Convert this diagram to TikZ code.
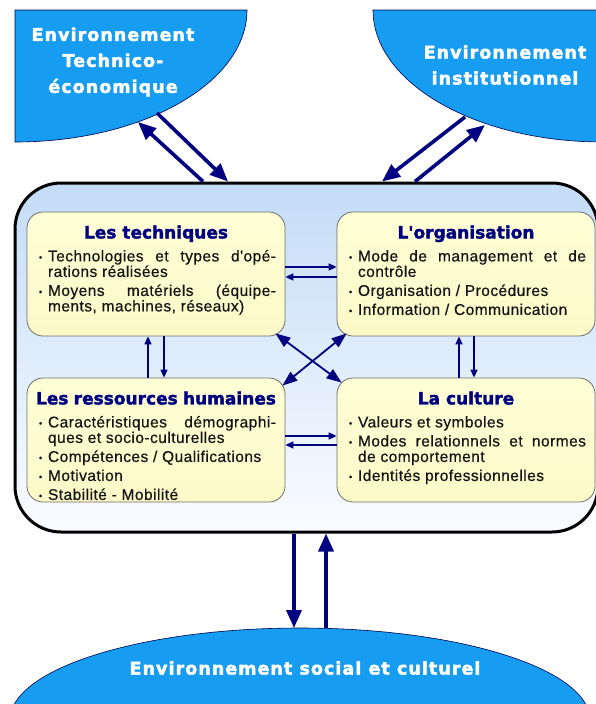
\documentclass[tikz,border=0pt]{standalone}
\usepackage{fontspec}
\setmainfont{Liberation Sans}
\newfontfamily\bodyfont{Liberation Sans}[LetterSpace=3, FakeBold=0.5]
\newfontfamily\headfont{DejaVu Sans}[BoldFeatures={FakeBold=2}]
\newfontfamily\envfont{DejaVu Sans}[LetterSpace=6, BoldFeatures={FakeBold=2.5}]
\usetikzlibrary{arrows.meta}

\definecolor{navyarrow}{RGB}{0,0,128}
\definecolor{envblue}{RGB}{22,156,240}
\definecolor{framtop}{RGB}{196,220,247}
\definecolor{frambot}{RGB}{250,252,255}
\definecolor{boxtop}{RGB}{255,255,214}
\definecolor{boxbot}{RGB}{252,249,200}
\definecolor{boxline}{RGB}{110,110,110}
\definecolor{bodytext}{RGB}{20,20,20}

% title line of a box
\newcommand{\boxtitle}[1]{\vspace*{3pt}{\centering\headfont\bfseries\fontsize{17}{20}\selectfont\color{navyarrow}#1\par}\vspace{4pt}}
% one bullet of a box
\newcommand{\puce}[1]{\par\hangindent=12pt\hangafter=1\noindent\hbox to 12pt{\hspace{3pt}\raisebox{1pt}{\fontsize{9}{9}\selectfont\textbullet}\hss}#1\par}
% body of a box
\newcommand{\boxbody}[1]{\parbox[c][110pt][t]{240pt}{\bodyfont\fontsize{15.5}{15.5}\selectfont\color{bodytext}\parskip=3.5pt #1}}

\begin{document}
\begin{tikzpicture}[
    x=1pt, y=-1pt, % one unit per pixel, y pointing down
    envblob/.style={fill=envblue, draw=navyarrow!60!black, line width=0.6pt},
    envtext/.style={align=center, text=white, font=\envfont\bfseries\fontsize{17.5}{26}\selectfont},
    framebox/.style={draw=black, line width=3pt, rounded corners=46pt, top color=framtop, bottom color=frambot},
    boxnode/.style={draw=boxline, line width=0.8pt, rounded corners=16pt, top color=boxtop, bottom color=boxbot,
        inner xsep=9pt, inner ysep=7pt},
    bigarrow/.style={draw=navyarrow, line width=3.6pt, -{Triangle[length=18pt,width=15pt]}},
    linkarrow/.style={draw=navyarrow, line width=1.6pt, -{Triangle[length=8pt,width=7pt]}},
    crossarrow/.style={draw=navyarrow, line width=1.8pt, {Triangle[length=15pt,width=11pt]}-{Triangle[length=15pt,width=11pt]}}
]
\useasboundingbox (0,0) rectangle (596,704);
\begin{scope}
\clip (0,0) rectangle (596,704);

% the three environments
\filldraw[envblob] (15,10) -- (247,10) arc[start angle=0, end angle=-90, x radius=232pt, y radius=132pt] -- cycle;
\filldraw[envblob] (603,10) -- (373,10) arc[start angle=180, end angle=270, x radius=230pt, y radius=132pt] -- cycle;
\filldraw[envblob] (300,720) ellipse [x radius=290pt, y radius=92pt];

\node[envtext] (tecEnv) at (113,62) {Environnement\\Technico-\\économique};
\node[envtext] (instEnv) at (505,65) {Environnement\\institutionnel};
\node[envtext] (socEnv) at (305,668) {Environnement social et culturel};

\coordinate (tecOut) at (157,113);
\coordinate (tecIn) at (138,122);
\coordinate (instOut) at (465,117);
\coordinate (instIn) at (485,125);
\coordinate (socIn) at (294,628);
\coordinate (socOut) at (326,628);

% the enterprise
\node[framebox, minimum width=583, minimum height=349] (cadre) at (306.5,357.5) {};

\node[boxnode] (tech) at (156,274) {\boxbody{%
    \boxtitle{Les techniques}
    \puce{Technologies et types d'opé-\linebreak rations réalisées}
    \puce{Moyens matériels (équipe-\linebreak ments, machines, réseaux)}}};
\node[boxnode] (orga) at (466,274) {\boxbody{%
    \boxtitle{L'organisation}
    \puce{Mode de management et de\linebreak contrôle}
    \puce{Organisation / Procédures}
    \puce{Information / Communication}}};
\node[boxnode] (rh) at (156,440) {\boxbody{%
    \boxtitle{Les ressources humaines}
    \puce{Caractéristiques démographi-\linebreak ques et socio-culturelles}
    \puce{Compétences / Qualifications}
    \puce{Motivation}
    \puce{Stabilité - Mobilité}}};
\node[boxnode] (cult) at (466,440) {\boxbody{%
    \boxtitle{La culture}
    \puce{Valeurs et symboles}
    \puce{Modes relationnels et normes\linebreak de comportement}
    \puce{Identités professionnelles}}};

% exchanges with the environments
\draw[bigarrow] (tecOut) -- ([xshift=-78.5pt]cadre.north);
\draw[bigarrow] ([xshift=-103.5pt]cadre.north) -- (tecIn);
\draw[bigarrow] (instOut) -- ([xshift=75.5pt]cadre.north);
\draw[bigarrow] ([xshift=108.5pt]cadre.north) -- (instIn);
\draw[bigarrow] ([xshift=-12.5pt]cadre.south) -- (socIn);
\draw[bigarrow] (socOut) -- ([xshift=19.5pt]cadre.south);

% links between the four poles
\draw[linkarrow] ([yshift=7pt]tech.east) -- ([yshift=7pt]orga.west);
\draw[linkarrow] ([yshift=-3pt]orga.west) -- ([yshift=-3pt]tech.east);
\draw[linkarrow] ([yshift=4pt]rh.east) -- ([yshift=4pt]cult.west);
\draw[linkarrow] ([yshift=-5pt]cult.west) -- ([yshift=-5pt]rh.east);
\draw[linkarrow] ([xshift=-8pt]rh.north) -- ([xshift=-8pt]tech.south);
\draw[linkarrow] ([xshift=8pt]tech.south) -- ([xshift=8pt]rh.north);
\draw[linkarrow] ([xshift=-7pt]cult.north) -- ([xshift=-7pt]orga.south);
\draw[linkarrow] ([xshift=8pt]orga.south) -- ([xshift=8pt]cult.north);
\draw[crossarrow] ([shift={(-10pt,3pt)}]tech.south east) -- ([shift={(5pt,-5pt)}]cult.north west);
\draw[crossarrow] ([shift={(10pt,3pt)}]orga.south west) -- ([shift={(-3pt,-8pt)}]rh.north east);
\end{scope}
\end{tikzpicture}
\end{document}
